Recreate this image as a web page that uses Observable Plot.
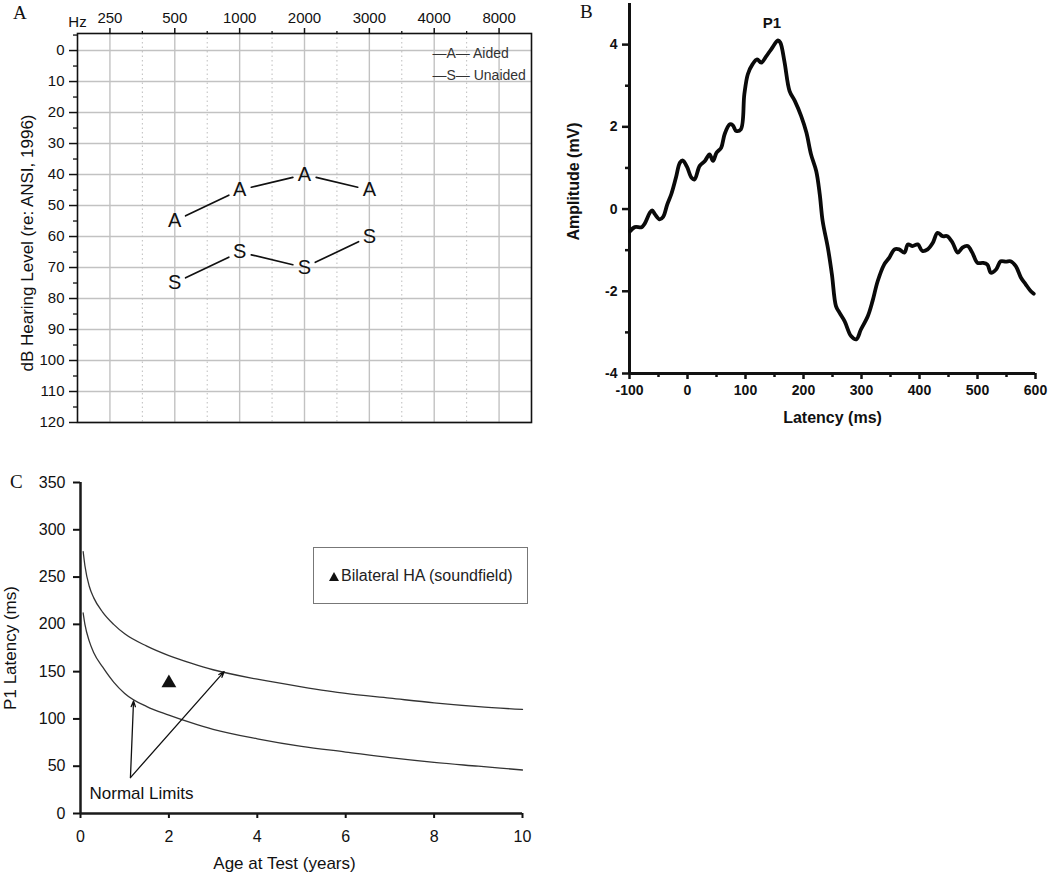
<!DOCTYPE html>
<html><head><meta charset="utf-8">
<script src="https://cdn.jsdelivr.net/npm/d3@7"></script>
<script src="https://cdn.jsdelivr.net/npm/@observablehq/plot@0.6"></script>
<style>
body{margin:0;background:#fff;}
#root{position:relative;width:1050px;height:879px;overflow:hidden;background:#fff;font-family:"Liberation Sans",Arial,sans-serif;}
.panel{position:absolute;}
.letter{position:absolute;font-family:"Liberation Serif","Times New Roman",serif;font-size:19px;line-height:1;color:#111;}
.legendC{position:absolute;left:313px;top:547px;width:213px;height:55px;border:1.5px solid #777;box-sizing:content-box;}
.legendC span{position:absolute;left:27px;top:19px;font-size:16px;line-height:18px;color:#222;white-space:nowrap;}
.legendC svg{position:absolute;left:15px;top:24px;}
</style></head><body><div id="root"></div>
<script>
// ---------- Panel A data (audiogram) ----------
const freqLabels = ["250","500","1000","2000","3000","4000","8000"];
const testFreqs = ["500","1000","2000","3000"];
const aidedDb = [55, 45, 40, 45];
const unaidedDb = [75, 65, 70, 60];
const dbTicks = [0,10,20,30,40,50,60,70,80,90,100,110,120];
const dbMinorTicks = [-5,5,15,25,35,45,55,65,75,85,95,105,115];

// ---------- Panel B data (waveform) ----------
const latencyMs = [-99,-91,-79,-74,-65,-61,-56,-48,-42,-35,-28,-20,-13,-8,-1,7,12,21,30,38,44,50,58,64,73,78,84,92,98,104,112,120,127,136,144,156,160,167,176,185,196,205,213,222,228,233,242,249,256,262,271,282,291,299,311,319,328,339,348,357,365,374,380,388,397,405,414,423,431,440,448,457,466,474,483,491,500,509,517,523,532,540,549,557,566,575,583,592,597];
const amplitudeMv = [-0.54,-0.44,-0.44,-0.36,-0.09,-0.03,-0.13,-0.25,-0.19,0.11,0.36,0.76,1.13,1.18,1.03,0.76,0.72,1.05,1.17,1.33,1.17,1.37,1.49,1.82,2.06,2.04,1.90,1.94,2.79,3.28,3.52,3.64,3.56,3.72,3.88,4.10,4.05,3.60,2.87,2.63,2.26,1.86,1.33,0.92,0.36,-0.29,-0.94,-1.59,-2.36,-2.52,-2.73,-3.09,-3.17,-2.93,-2.60,-2.24,-1.75,-1.35,-1.18,-0.98,-0.98,-1.06,-0.86,-0.90,-0.86,-1.02,-0.98,-0.82,-0.58,-0.66,-0.66,-0.82,-1.06,-0.94,-0.90,-1.06,-1.31,-1.31,-1.35,-1.55,-1.47,-1.27,-1.28,-1.27,-1.39,-1.67,-1.83,-2.00,-2.06];
const latencyDomain = [-100, 600];
const amplitudeDomain = [-4, 5];
const latencyTicks = [-100,0,100,200,300,400,500,600];
const latencyMinorTicks = [-50,50,150,250,350,450,550];
const amplitudeTicks = [-4,-2,0,2,4];
const amplitudeMinorTicks = [-3,-1,1,3];

// ---------- Panel C data (P1 latency norms) ----------
const ageYears = [0.06,0.1,0.2,0.3,0.5,0.75,1,1.5,2,2.5,3,4,5,6,7,8,9,10];
const upperLimitMs = [277,262,240,228,213,200,190,177,167,159,152,142,134,127,122,117,113,110];
const lowerLimitMs = [212,200,182,170,155,139,127,113,104,96,89,79,71,65,59,54,50,46];
const patientAge = [2];
const patientP1 = [138];
const arrowBaseAge = 1.13, arrowBaseMs = 38;
const arrowTipAge = [1.2, 3.25];
const arrowTipMs = [119, 150];
const ageTicks = [0,2,4,6,8,10];
const p1Ticks = [0,50,100,150,200,250,300,350];

const root = document.getElementById("root");
function place(node, left, top) {
  node.classList.add("panel");
  node.style.left = left + "px";
  node.style.top = top + "px";
  root.appendChild(node);
}
const sans = "'Liberation Sans', Arial, sans-serif";

// ---------- Panel A ----------
const audio = testFreqs.map((f, i) => ({fi: freqLabels.indexOf(f), aided: aidedDb[i], unaided: unaidedDb[i]}));
const segs = key => audio.slice(1).map((d, i) => ({x1: audio[i].fi, y1: audio[i][key], x2: d.fi, y2: d[key]}));
const catIdx = d3.range(freqLabels.length);
const midIdx = d3.range(0.5, freqLabels.length - 1, 1);

const chartA = Plot.plot({
  width: 540, height: 440,
  marginLeft: 77, marginRight: 9, marginTop: 33, marginBottom: 18,
  style: {fontFamily: sans, fontSize: "15px", color: "#111", background: "transparent", overflow: "visible"},
  x: {domain: [-0.5, freqLabels.length - 0.5], label: null},
  y: {domain: [-5.5, 120], reverse: true, label: null},
  marks: [
    Plot.gridY(dbTicks, {stroke: "#c2c2c2", strokeOpacity: 1, strokeWidth: 1.4}),
    Plot.gridX(catIdx, {stroke: "#c2c2c2", strokeOpacity: 1, strokeWidth: 1.4}),
    Plot.gridX(midIdx, {stroke: "#bdbdbd", strokeOpacity: 1, strokeWidth: 1, strokeDasharray: "1.5,3"}),
    Plot.frame({stroke: "#111", strokeWidth: 1.6}),
    Plot.axisY(dbTicks, {tickSize: 8, tickPadding: 5, strokeWidth: 1.5}),
    Plot.axisY(dbMinorTicks, {tickSize: 4, tickFormat: () => "", strokeWidth: 1.3}),
    Plot.axisX(catIdx, {anchor: "top", tickSize: 6, tickPadding: 5, strokeWidth: 1.5, tickFormat: i => freqLabels[i]}),
    Plot.axisX(midIdx, {anchor: "top", tickSize: 3, strokeWidth: 1.3, tickFormat: () => ""}),
    Plot.arrow(segs("aided"), {x1: "x1", y1: "y1", x2: "x2", y2: "y2", headLength: 0, inset: 12, stroke: "#111", strokeWidth: 1.7}),
    Plot.arrow(segs("unaided"), {x1: "x1", y1: "y1", x2: "x2", y2: "y2", headLength: 0, inset: 12, stroke: "#111", strokeWidth: 1.7}),
    Plot.text(audio, {x: "fi", y: "aided", text: () => "A", fontSize: 20, fill: "#111"}),
    Plot.text(audio, {x: "fi", y: "unaided", text: () => "S", fontSize: 20, fill: "#111"}),
    Plot.text(["—A— Aided\n—S— Unaided"], {frameAnchor: "top-right", text: d => d, textAnchor: "start", lineAnchor: "top", lineHeight: 1.55, dx: -99, dy: 9, fontSize: 14, fill: "#333"}),
    Plot.text(["Hz"], {frameAnchor: "top-left", text: d => d, textAnchor: "middle", dy: -17, fontSize: 15}),
    Plot.text(["dB Hearing Level (re: ANSI, 1996)"], {frameAnchor: "left", text: d => d, textAnchor: "middle", rotate: -90, dx: -50, dy: 15, fontSize: 17})
  ]
});
place(chartA, 0, 0);

// ---------- Panel B ----------
const wave = latencyMs.map((t, i) => ({t, v: amplitudeMv[i]}));
const peak = wave[d3.maxIndex(wave, d => d.v)];
const chartB = Plot.plot({
  width: 510, height: 440,
  marginLeft: 89, marginRight: 15, marginTop: 3, marginBottom: 67,
  style: {fontFamily: sans, fontSize: "14px", fontWeight: "bold", color: "#111", background: "transparent", overflow: "visible"},
  x: {domain: latencyDomain, label: null},
  y: {domain: amplitudeDomain, label: null},
  marks: [
    Plot.axisY(amplitudeTicks, {tickSize: 7, tickPadding: 5, strokeWidth: 2.5, tickFormat: d => String(d)}),
    Plot.axisY(amplitudeMinorTicks, {tickSize: 4, strokeWidth: 2.5, tickFormat: () => ""}),
    Plot.axisX(latencyTicks, {tickSize: 6, tickPadding: 6, strokeWidth: 2.5, tickFormat: d => String(d)}),
    Plot.axisX(latencyMinorTicks, {tickSize: 4, strokeWidth: 2.5, tickFormat: () => ""}),
    Plot.ruleX([latencyDomain[0]], {stroke: "#111", strokeWidth: 3}),
    Plot.ruleY([amplitudeDomain[0]], {stroke: "#111", strokeWidth: 3}),
    Plot.line(wave, {x: "t", y: "v", stroke: "#0a0a0a", strokeWidth: 3.8, curve: "catmull-rom", strokeLinejoin: "round", strokeLinecap: "round"}),
    Plot.text([peak], {x: "t", y: "v", text: () => "P1", dx: -6, dy: -17, fontSize: 15}),
    Plot.text(["Amplitude (mV)"], {frameAnchor: "left", text: d => d, textAnchor: "middle", rotate: -90, dx: -56, dy: -7, fontSize: 16}),
    Plot.text(["Latency (ms)"], {frameAnchor: "bottom", text: d => d, textAnchor: "middle", dy: 49, fontSize: 16})
  ]
});
place(chartB, 540, 0);

// ---------- Panel C ----------
const norms = ageYears.map((a, i) => ({age: a, upper: upperLimitMs[i], lower: lowerLimitMs[i]}));
const arrows = arrowTipAge.map((a, i) => ({x1: arrowBaseAge, y1: arrowBaseMs, x2: a, y2: arrowTipMs[i]}));
const patient = patientAge.map((a, i) => ({age: a, p1: patientP1[i]}));
const chartC = Plot.plot({
  width: 540, height: 439,
  marginLeft: 80, marginRight: 18, marginTop: 42, marginBottom: 66,
  style: {fontFamily: sans, fontSize: "16px", color: "#111", background: "transparent", overflow: "visible"},
  x: {domain: [0, 10], label: null},
  y: {domain: [0, 350], label: null},
  marks: [
    Plot.axisY(p1Ticks, {tickSize: 7, tickPadding: 8, strokeWidth: 2}),
    Plot.axisX(ageTicks, {tickSize: 5, tickPadding: 12, strokeWidth: 2}),
    Plot.ruleX([0], {stroke: "#1a1a1a", strokeWidth: 2.5}),
    Plot.ruleY([0], {stroke: "#1a1a1a", strokeWidth: 2.5}),
    Plot.line(norms, {x: "age", y: "upper", stroke: "#333", strokeWidth: 1.3, curve: "monotone-x"}),
    Plot.line(norms, {x: "age", y: "lower", stroke: "#333", strokeWidth: 1.3, curve: "monotone-x"}),
    Plot.arrow(arrows, {x1: "x1", y1: "y1", x2: "x2", y2: "y2", stroke: "#111", strokeWidth: 1.3, headLength: 7, headAngle: 40}),
    Plot.dot(patient, {x: "age", y: "p1", symbol: "triangle", r: 5.5, fill: "#111", stroke: "none"}),
    Plot.text([arrows[0]], {x: "x1", y: "y1", text: () => "Normal Limits", dx: 11, dy: 16, fontSize: 17}),
    Plot.text(["P1 Latency (ms)"], {frameAnchor: "left", text: d => d, textAnchor: "middle", rotate: -90, dx: -70, fontSize: 17}),
    Plot.text(["Age at Test (years)"], {frameAnchor: "bottom", text: d => d, textAnchor: "middle", dx: -17, dy: 55, fontSize: 17})
  ]
});
place(chartC, 0, 440);

// Legend for panel C
const leg = document.createElement("div");
leg.className = "legendC";
leg.innerHTML = '<svg width="10" height="9"><polygon points="5,0 10,9 0,9" fill="#111"/></svg><span>Bilateral HA (soundfield)</span>';
root.appendChild(leg);

// Panel letters
[["A", 13, 3], ["B", 580, 2], ["C", 10, 472]].forEach(([t, l, tp]) => {
  const d = document.createElement("div");
  d.className = "letter"; d.textContent = t;
  d.style.left = l + "px"; d.style.top = tp + "px";
  root.appendChild(d);
});
</script></body></html>
